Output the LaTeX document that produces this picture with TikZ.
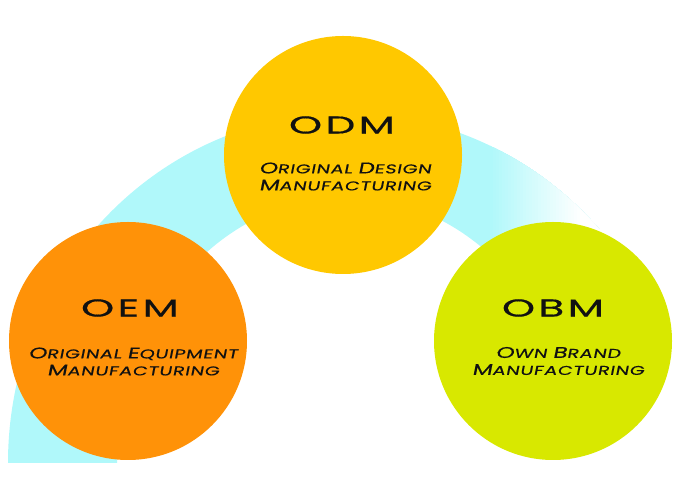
\documentclass[tikz,border=0pt]{standalone}
\usepackage{fontspec}
\usepackage{graphicx}
\setmainfont{Poppins}
\newfontfamily\titlefont[FakeStretch=1.72,LetterSpace=14,FakeBold=0.6]{Poppins}
\newfontfamily\subfont[FakeStretch=1.5,FakeSlant=0.2,LetterSpace=5,FakeBold=0.3]{Poppins}
\definecolor{bandcyan}{RGB}{176,248,250}
\definecolor{odmcol}{RGB}{255,200,0}
\definecolor{oemcol}{RGB}{255,146,8}
\definecolor{obmcol}{RGB}{216,232,0}
\definecolor{inkcol}{RGB}{17,17,17}
\newcommand\capsm[2]{{\fontsize{15.5}{17}\selectfont #1}#2}
\tikzset{
  disc/.style={circle, minimum size=238pt, inner sep=0pt, draw=none},
  ttl/.style={text=inkcol, inner sep=0pt, font=\titlefont\fontsize{24.5}{26}\selectfont},
  subttl/.style={text=inkcol, inner sep=0pt, align=center, font=\subfont\fontsize{12.8}{17}\selectfont},
  bandshape/.style={insert path={(8,37) arc[start angle=180, end angle=40, x radius=339, y radius=350]
     -- (523.19,207.98) arc[start angle=40, end angle=180, x radius=230, y radius=266] -- cycle}}
}
\begin{document}
\begin{tikzpicture}[x=1pt,y=1pt]
\useasboundingbox (0,0) rectangle (680,500);
% background band, faded out on the right
\begin{scope}
\clip[bandshape];
\fill[bandcyan] (0,0) rectangle (492,500);
\foreach \i in {0,...,30} {
  \pgfmathsetmacro\xx{490+\i*3}
  \pgfmathsetmacro\pc{100-\i*100/30}
  \fill[bandcyan!\pc!white] (\xx,0) rectangle (600,500);
}
\end{scope}
% discs
\node[disc, fill=odmcol] (odm) at (343,345) {};
\node[disc, fill=oemcol] (oem) at (128,159) {};
\node[disc, fill=obmcol] (obm) at (553,159) {};
% texts
\node[ttl] (odmt) at (342,375) {ODM};
\node[subttl] (odms) at (345,323.5) {\capsm{O}{RIGINAL} \capsm{D}{ESIGN}\\\capsm{M}{ANUFACTURING}};
\node[ttl] (oemt) at (130,192) {OEM};
\node[subttl] (oems) at (133,138.5) {\capsm{O}{RIGINAL} \capsm{E}{QUIPMENT}\\\capsm{M}{ANUFACTURING}};
\node[ttl] (obmt) at (553,192) {OBM};
\node[subttl] (obms) at (558,139) {\capsm{O}{WN} \capsm{B}{RAND}\\\capsm{M}{ANUFACTURING}};
\end{tikzpicture}
\end{document}
